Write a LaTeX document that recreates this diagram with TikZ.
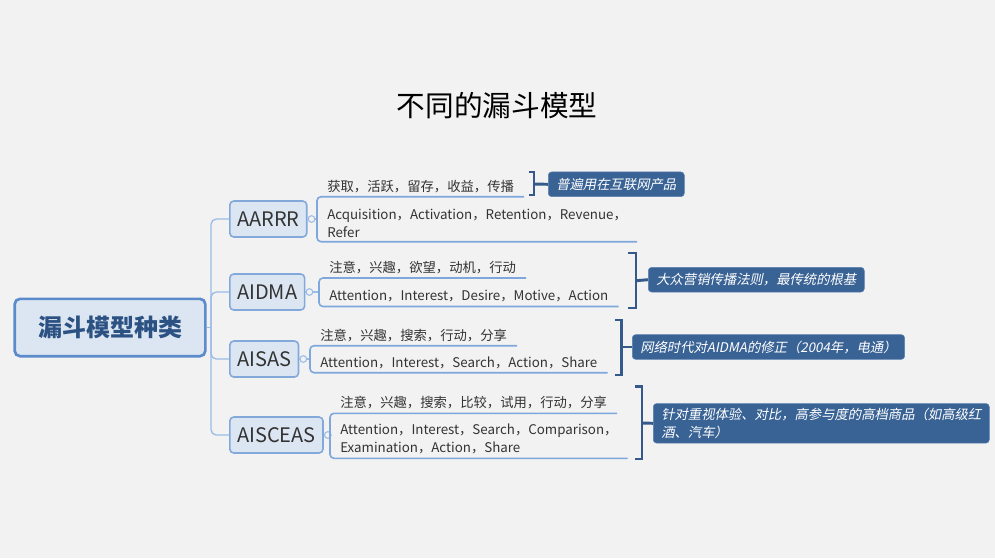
\documentclass[tikz,border=0pt]{standalone}
\usepackage{fontspec}
\setmainfont{Noto Sans CJK SC}
\newfontfamily\slantfont[FakeSlant=0.2]{Noto Sans CJK SC}
\usepackage{tikz}
\usetikzlibrary{calc}

\definecolor{bgcol}{HTML}{F2F2F2}
\definecolor{boxfill}{HTML}{DCE6F2}
\definecolor{rootline}{HTML}{5B8BCB}
\definecolor{branchline}{HTML}{83A9DA}
\definecolor{roottext}{HTML}{2C5283}
\definecolor{darktext}{HTML}{333333}
\definecolor{treecol}{HTML}{9BBCE5}
\definecolor{leafcol}{HTML}{7EA8DD}
\definecolor{bracketcol}{HTML}{35598A}
\definecolor{notefill}{HTML}{3A6395}
\definecolor{noteline}{HTML}{5B82B3}

\tikzset{
  rootbox/.style={draw=rootline, line width=2pt, fill=boxfill, rounded corners=4pt,
    minimum width=143pt, minimum height=43pt, text=roottext,
    font=\fontsize{18}{20}\selectfont\bfseries},
  branchbox/.style={draw=branchline, line width=1.2pt, fill=boxfill, rounded corners=3pt,
    anchor=west, minimum height=27pt, inner xsep=5.5pt, text=darktext,
    font=\fontsize{15}{17}\selectfont},
  leaf/.style={anchor=south west, inner xsep=7.5pt, inner ysep=3pt, align=left,
    text=darktext, font=\fontsize{10}{13.5}\selectfont},
  notebox/.style={draw=noteline, fill=notefill, rounded corners=2.5pt, anchor=west,
    inner xsep=6pt, minimum height=18.5pt, align=left, text=white,
    font=\fontsize{10}{13.5}\selectfont\slantfont},
  treeline/.style={draw=treecol, line width=1pt, rounded corners=4pt},
  leafline/.style={draw=leafcol, line width=1.2pt, rounded corners=3pt},
  bracket/.style={draw=bracketcol, line width=2.2pt},
  knob/.style={circle, draw=treecol, fill=bgcol, line width=0.8pt, inner sep=0pt,
    minimum size=5pt},
}

\begin{document}
\begin{tikzpicture}[x=0.75pt, y=-0.75pt]
    \fill[bgcol] (0,0) rectangle (995,558);
    \useasboundingbox (0,0) rectangle (995,558);

    \node[font=\fontsize{21.5}{24}\selectfont] (title) at (497,106) {不同的漏斗模型};

    \node[rootbox] (root) at (110,327.5) {漏斗模型种类};
    \node[branchbox] (aarrr) at (229,219) {AARRR};
    \node[branchbox] (aidma) at (229,292) {AIDMA};
    \node[branchbox] (aisas) at (229,359) {AISAS};
    \node[branchbox] (aisceas) at (229,435) {AISCEAS};

    \coordinate (trunk) at (211,327.5);
    \draw[treeline] (root.east) -- (trunk);
    \draw[treeline] (trunk) |- (aarrr.west);
    \draw[treeline] (trunk) |- (aidma.west);
    \draw[treeline] (trunk) |- (aisas.west);
    \draw[treeline] (trunk) |- (aisceas.west);

    % AARRR
    \node[leaf] (aarrr-cn) at (317,196.7) {获取，活跃，留存，收益，传播};
    \node[leaf] (aarrr-en) at (317,241.7) {Acquisition，Activation，Retention，Revenue，\\Refer};
    \draw[treeline] (aarrr.east) -- (aarrr.east -| aarrr-cn.south west);
    \node[knob] (aarrr-k) at ($(aarrr.east)+(4,0)$) {};
    \draw[leafline] (aarrr-cn.south east) -- (aarrr-cn.south west)
      -- (aarrr-en.south west) -- (aarrr-en.south east);
    \draw[bracket] (529,172) -- (534,172) -- (534,195) -- (529,195);
    \coordinate (aarrr-b) at (534,184);
    \node[notebox] (aarrr-note) at (548,184.3) {普遍用在互联网产品};
    \draw[bracket] (aarrr-b) -- (aarrr-note.west);

    % AIDMA
    \node[leaf] (aidma-cn) at (319,278) {注意，兴趣，欲望，动机，行动};
    \node[leaf] (aidma-en) at (319,306.5) {Attention，Interest，Desire，Motive，Action};
    \draw[treeline] (aidma.east) -- (aidma.east -| aidma-cn.south west);
    \node[knob] (aidma-k) at ($(aidma.east)+(4,0)$) {};
    \draw[leafline] (aidma-cn.south east) -- (aidma-cn.south west)
      -- (aidma-en.south west) -- (aidma-en.south east);
    \draw[bracket] (628,253) -- (636,253) -- (636,308) -- (628,308);
    \coordinate (aidma-b) at (636,280.7);
    \node[notebox] (aidma-note) at (648,279.7) {大众营销传播法则，最传统的根基};
    \draw[bracket] (aidma-b) -- (aidma-note.west);

    % AISAS
    \node[leaf] (aisas-cn) at (310,345.7) {注意，兴趣，搜索，行动，分享};
    \node[leaf] (aisas-en) at (310,372.7) {Attention，Interest，Search，Action，Share};
    \draw[treeline] (aisas.east) -- (aisas.east -| aisas-cn.south west);
    \node[knob] (aisas-k) at ($(aisas.east)+(4,0)$) {};
    \draw[leafline] (aisas-cn.south east) -- (aisas-cn.south west)
      -- (aisas-en.south west) -- (aisas-en.south east);
    \draw[bracket] (615,320) -- (621.7,320) -- (621.7,375) -- (615,375);
    \coordinate (aisas-b) at (621.7,347);
    \node[notebox] (aisas-note) at (632,347) {网络时代对AIDMA的修正（2004年，电通）};
    \draw[bracket] (aisas-b) -- (aisas-note.west);

    % AISCEAS
    \node[leaf] (aisceas-cn) at (330,413.3) {注意，兴趣，搜索，比较，试用，行动，分享};
    \node[leaf] (aisceas-en) at (330,458.3) {Attention，Interest，Search，Comparison，\\Examination，Action，Share};
    \draw[treeline] (aisceas.east) -- (aisceas.east -| aisceas-cn.south west);
    \node[knob] (aisceas-k) at ($(aisceas.east)+(4,0)$) {};
    \draw[leafline] (aisceas-cn.south east) -- (aisceas-cn.south west)
      -- (aisceas-en.south west) -- (aisceas-en.south east);
    \draw[bracket] (635,386.7) -- (642,386.7) -- (642,459) -- (635,459);
    \coordinate (aisceas-b) at (642,423);
    \node[notebox] (aisceas-note) at (653,423.3) {针对重视体验、对比，高参与度的高档商品（如高级红\\酒、汽车）};
    \draw[bracket] (aisceas-b) -- (aisceas-note.west);
\end{tikzpicture}
\end{document}
